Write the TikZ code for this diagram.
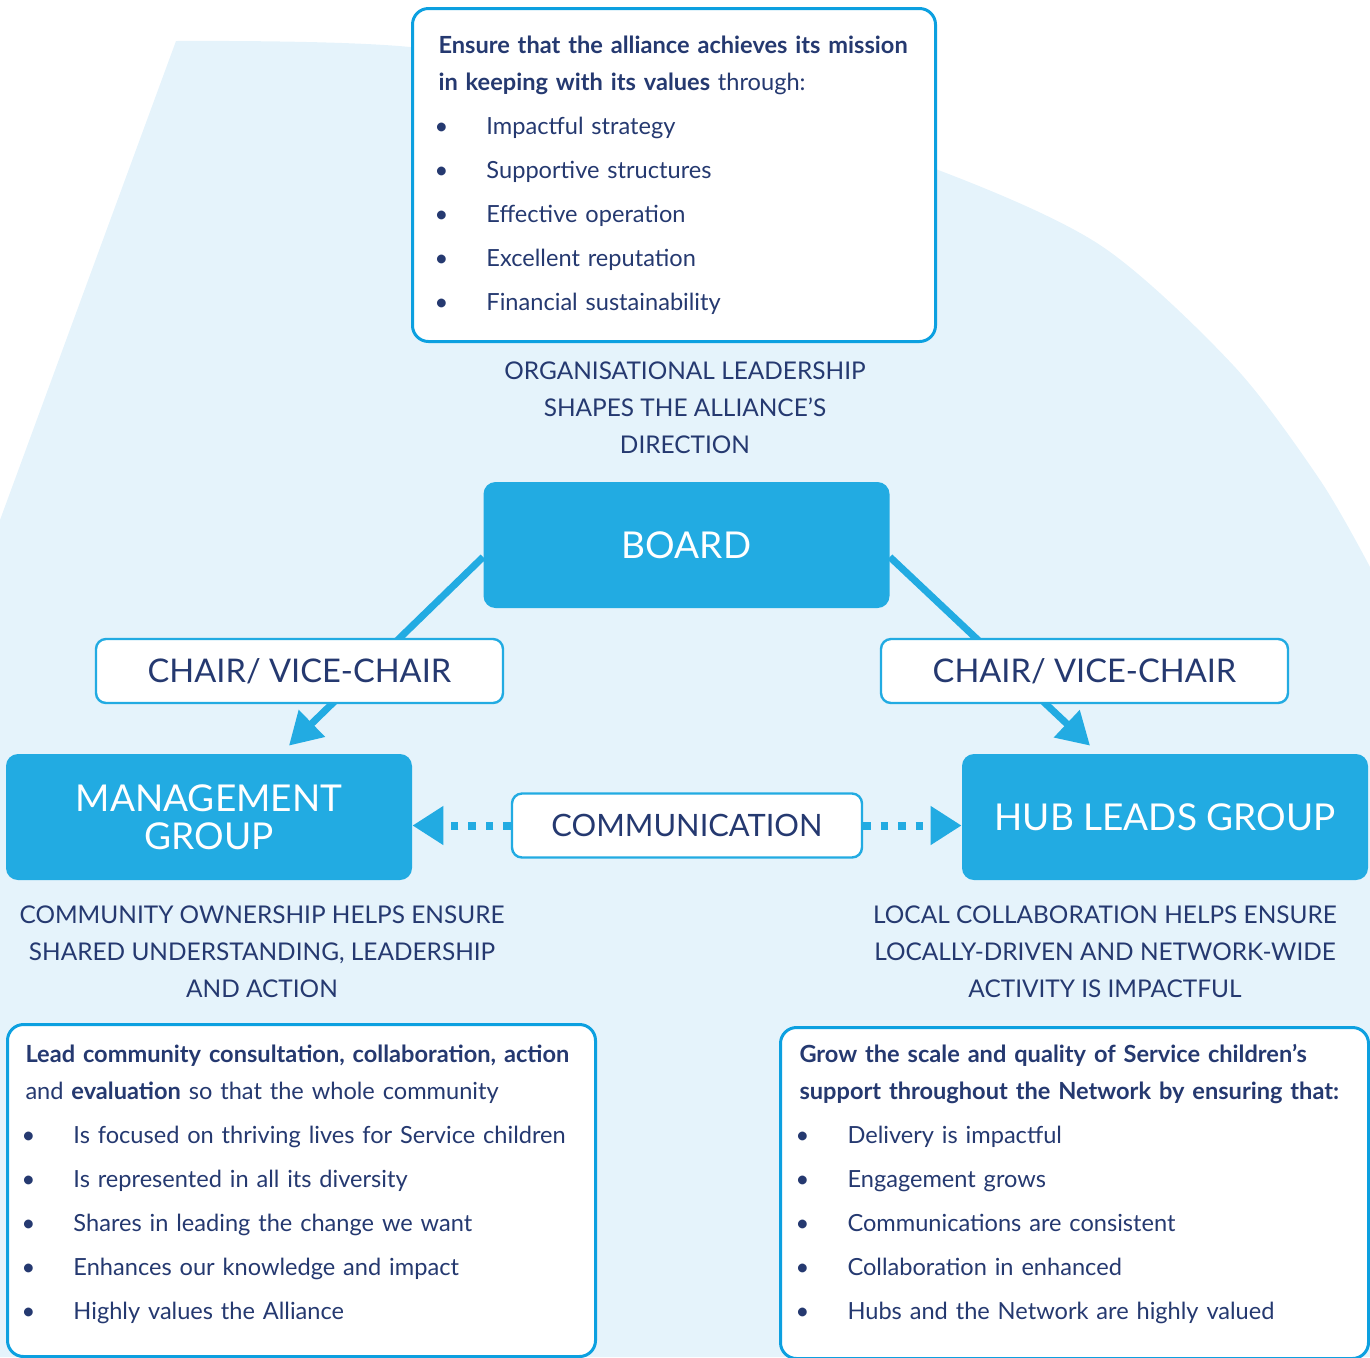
\documentclass[tikz,border=0pt]{standalone}
\usepackage{fontspec}
\setmainfont{Lato}
\usepackage{tikz}
\usetikzlibrary{arrows.meta}
\definecolor{orgsky}{RGB}{229,243,251}
\definecolor{orgblue}{RGB}{34,171,226}
\definecolor{orgedge}{RGB}{12,160,224}
\definecolor{orgnavy}{RGB}{37,57,112}
\newcommand{\bul}{\makebox[24pt][l]{\hspace{-2pt}\textbullet}}
\newcommand{\headline}[1]{\mbox{#1}}

\begin{document}
\begin{tikzpicture}[
    x=0.5pt, y=-0.5pt,
    groupbox/.style={fill=orgblue, rounded corners=6pt, text=white, align=center, inner sep=0pt, minimum width=203pt, minimum height=63pt, font=\fontsize{18.5}{19}\selectfont},
    rolebox/.style={draw=orgblue, line width=1.2pt, fill=white, rounded corners=5pt, text=orgnavy, inner sep=0pt, minimum height=32pt, font=\fontsize{16.3}{18}\selectfont},
    listbox/.style={draw=orgedge, line width=1.5pt, fill=white, rounded corners=8pt, text=orgnavy, anchor=north west, align=left, inner ysep=0pt, font=\fontsize{11.8}{22}\selectfont},
    caption/.style={text=orgnavy, align=center, font=\fontsize{12.2}{18.5}\selectfont},
    link/.style={-{Triangle[length=16pt, width=18pt]}, line width=3.5pt, draw=orgblue},
    talk/.style={-{Triangle[length=15.5pt, width=18.5pt]}, line width=4pt, draw=orgblue, dash pattern=on 3.75pt off 5pt}
  ]
    \useasboundingbox (0,0) rectangle (1370,1357);
    \fill[orgsky] (0,1357) -- (0,520) -- (176,41) -- plot[smooth] coordinates {(176,41) (410,47) (700,93) (933,168) (1100,245) (1233,365) (1320,480) (1370,567)} -- (1370,1357) -- cycle;

    \node[listbox, inner xsep=13pt, text width=235.5pt, minimum width=261.5pt, minimum height=166.5pt] (mission) at (411,7) {\headline{\textbf{Ensure that the alliance achieves its mission}}\\[-3.5pt]\headline{\textbf{in keeping with its values} through:}\\\bul Impactful strategy\\\bul Supportive structures\\\bul Effective operation\\\bul Excellent reputation\\\bul Financial sustainability};
    \node[caption] (leadcap) at (685,408) {ORGANISATIONAL LEADERSHIP\\SHAPES THE ALLIANCE’S\\DIRECTION};

    \node[groupbox] (board) at (686.5,545) {BOARD};
    \node[groupbox] (mgmt) at (209,817) {MANAGEMENT\\GROUP};
    \node[groupbox] (hub) at (1165,817) {HUB LEADS GROUP};

    \draw[link] ([yshift=-6pt]board.west) -- ([xshift=40pt, yshift=4pt]mgmt.north);
    \draw[link] ([yshift=-6pt]board.east) -- ([xshift=-37.5pt, yshift=4pt]hub.north);

    \node[rolebox, minimum width=203.5pt] (chairl) at (299.5,671) {CHAIR/ VICE-CHAIR};
    \node[rolebox, minimum width=203.5pt] (chairr) at (1084.5,671) {CHAIR/ VICE-CHAIR};
    \node[rolebox, minimum width=175pt, font=\fontsize{15.4}{18}\selectfont] (comm) at (687,825.5) {COMMUNICATION};

    \draw[talk] (comm.west) -- (comm.west -| mgmt.east);
    \draw[talk] (comm.east) -- (comm.east -| hub.west);

    \node[caption] (mgmtcap) at (262,952) {COMMUNITY OWNERSHIP HELPS ENSURE\\SHARED UNDERSTANDING, LEADERSHIP\\AND ACTION};
    \node[caption] (hubcap) at (1105,952) {LOCAL COLLABORATION HELPS ENSURE\\LOCALLY-DRIVEN AND NETWORK-WIDE\\ACTIVITY IS IMPACTFUL};

    \node[listbox, inner xsep=9pt, text width=276pt, minimum width=294pt, minimum height=166pt] (mgmtlist) at (6,1023) {\headline{\textbf{Lead community consultation, collaboration, action}}\\[-3.5pt]and \textbf{evaluation} so that the whole community\\\bul Is focused on thriving lives for Service children\\\bul Is represented in all its diversity\\\bul Shares in leading the change we want\\\bul Enhances our knowledge and impact\\\bul Highly values the Alliance\par\vspace{6.5pt}};
    \node[listbox, inner xsep=9.5pt, text width=275pt, minimum width=294pt, minimum height=165.5pt] (hublist) at (779,1026) {\headline{\textbf{Grow the scale and quality of Service children’s}}\\[-3.5pt]\headline{\textbf{support throughout the Network by ensuring that:}}\\\bul Delivery is impactful\\\bul Engagement grows\\\bul Communications are consistent\\\bul Collaboration in enhanced\\\bul Hubs and the Network are highly valued\par\vspace{8.5pt}};
  \end{tikzpicture}
\end{document}
